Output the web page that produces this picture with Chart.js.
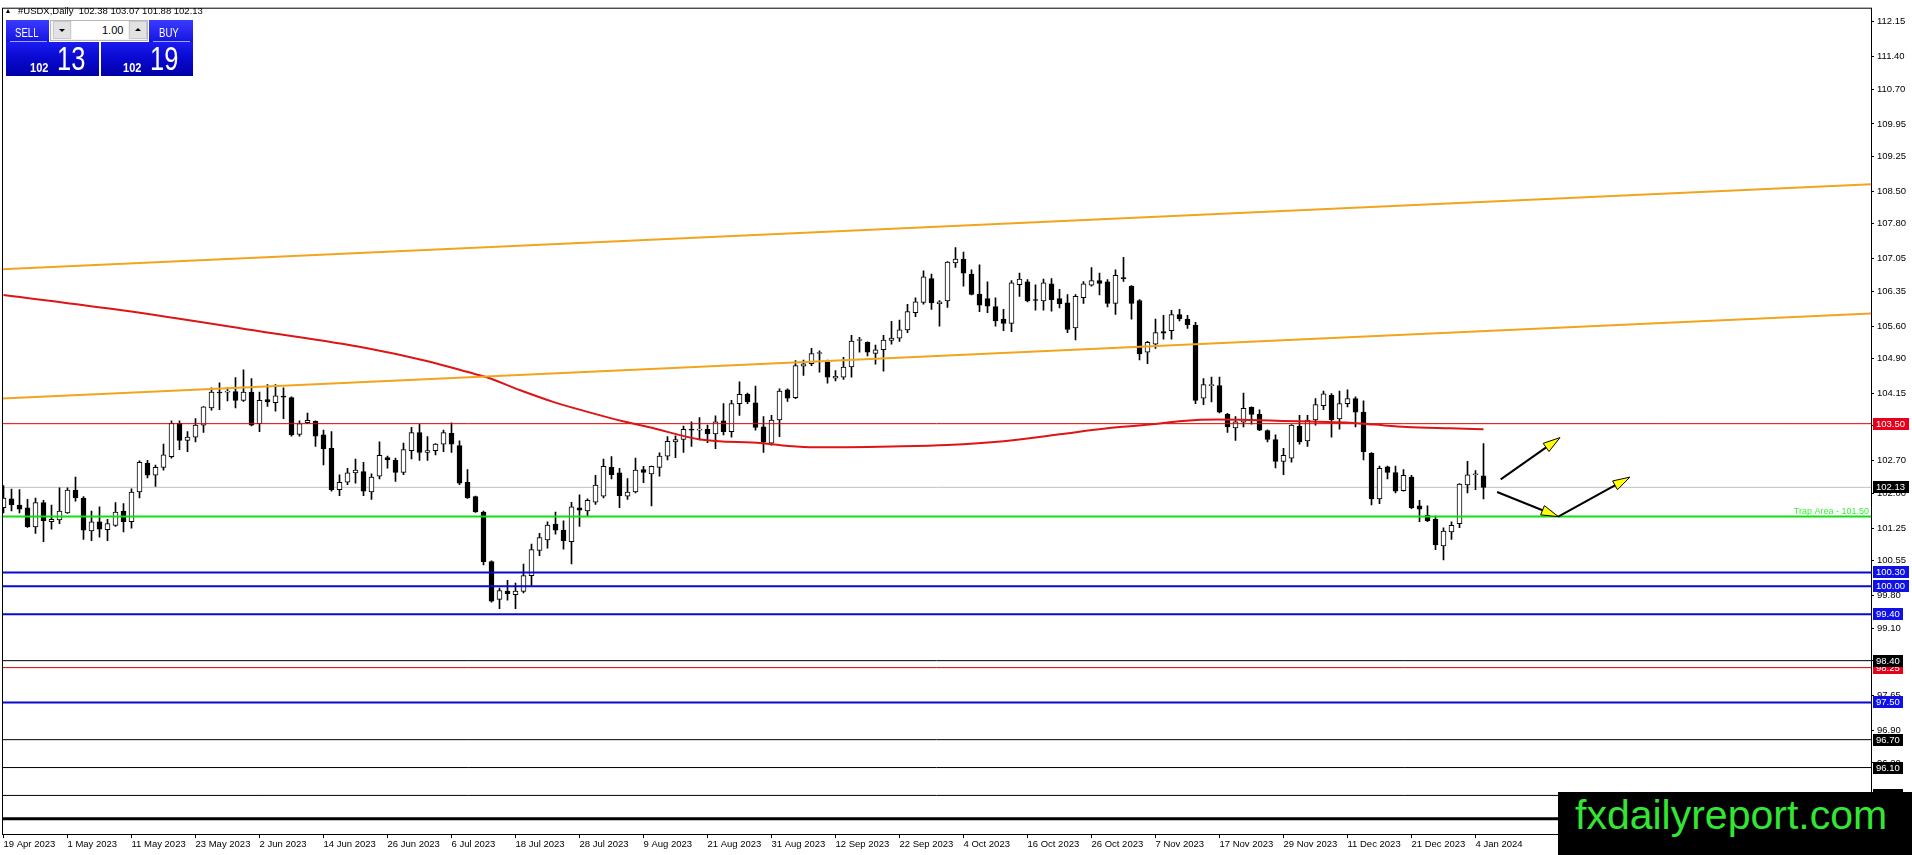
<!DOCTYPE html>
<html><head><meta charset="utf-8">
<script src="https://cdn.jsdelivr.net/npm/chart.js@4.4.1/dist/chart.umd.min.js"></script>
<style>
html,body{margin:0;padding:0;background:#fff;overflow:hidden;}
#wrap{position:relative;width:1912px;height:855px;font-family:"Liberation Sans",Arial,sans-serif;}
#c{position:absolute;left:0;top:0;}
.abs{position:absolute;white-space:pre;}
.tri{position:absolute;left:6px;top:9px;width:0;height:0;border-left:2.5px solid transparent;border-right:2.5px solid transparent;border-bottom:4px solid #000;}
.hdr{left:18px;top:5px;font-size:9.5px;line-height:11px;color:#000;}
.btop{background:linear-gradient(#3b3bff,#1414e0);}
.bbot{background:linear-gradient(#1c1cf0,#0a0ad2 45%,#0000a6);}
.sep{position:absolute;height:1px;background:#9aa6ff;}
.wt{color:#fff;transform-origin:0 0;}
.spin{background:#f4f4f4;border:1px solid #b8b8b8;box-sizing:border-box;}
.sbtn{background:#e2e2e2;border:1px solid #c8c8c8;box-sizing:border-box;}
.field{background:#fff;}
#wm{left:1558px;top:792px;width:354px;height:63px;background:#000;}
#wm span{position:absolute;left:17px;top:3px;font-size:41px;line-height:41px;color:#34e634;}
</style></head><body>
<div id="wrap">
<canvas id="c" width="1912" height="855"></canvas>
<div class="tri"></div>
<div class="abs hdr">#USDX,Daily  102.38 103.07 101.88 102.13</div>

<div class="abs btop" style="left:6px;top:20px;width:43px;height:22px;"></div>
<div class="abs btop" style="left:149px;top:20px;width:44px;height:22px;"></div>
<div class="abs bbot" style="left:6px;top:42px;width:93px;height:34px;"></div>
<div class="abs bbot" style="left:101px;top:42px;width:92px;height:34px;"></div>
<div class="sep" style="left:10px;top:41px;width:37px;"></div>
<div class="sep" style="left:153px;top:41px;width:37px;"></div>
<div class="abs wt" style="left:15px;top:26px;font-size:13px;line-height:13px;transform:scaleX(.74);">SELL</div>
<div class="abs wt" style="left:159px;top:26px;font-size:13px;line-height:13px;transform:scaleX(.74);">BUY</div>

<div class="abs spin" style="left:50px;top:20px;width:98px;height:21px;"></div>
<div class="abs sbtn" style="left:53px;top:21px;width:18px;height:18px;"></div>
<div class="abs field" style="left:72px;top:21px;width:56px;height:18px;"></div>
<div class="abs sbtn" style="left:129px;top:21px;width:18px;height:18px;"></div>
<div class="abs" style="left:59px;top:29px;width:0;height:0;border-left:3px solid transparent;border-right:3px solid transparent;border-top:3px solid #000;"></div>
<div class="abs" style="left:135px;top:28px;width:0;height:0;border-left:3px solid transparent;border-right:3px solid transparent;border-bottom:3px solid #000;"></div>
<div class="abs" style="left:102px;top:25px;font-size:11px;line-height:11px;color:#000;">1.00</div>

<div class="abs wt" style="left:30px;top:61px;font-size:13px;line-height:13px;font-weight:bold;transform:scaleX(.85);">102</div>
<div class="abs wt" style="left:57px;top:41px;font-size:34px;line-height:34px;transform:scaleX(.75);">13</div>
<div class="abs wt" style="left:123px;top:61px;font-size:13px;line-height:13px;font-weight:bold;transform:scaleX(.85);">102</div>
<div class="abs wt" style="left:150px;top:41px;font-size:34px;line-height:34px;transform:scaleX(.75);">19</div>

<div id="wm" class="abs"><span>fxdailyreport.com</span></div>
</div>
<script>
// ---------- data ----------
const STEP = 8; // bars between date labels
const tickLabels = ['19 Apr 2023','1 May 2023','11 May 2023','23 May 2023','2 Jun 2023','14 Jun 2023','26 Jun 2023','6 Jul 2023','18 Jul 2023','28 Jul 2023','9 Aug 2023','21 Aug 2023','31 Aug 2023','12 Sep 2023','22 Sep 2023','4 Oct 2023','16 Oct 2023','26 Oct 2023','7 Nov 2023','17 Nov 2023','29 Nov 2023','11 Dec 2023','21 Dec 2023','4 Jan 2024'];
const priceTicks = [112.15,111.40,110.70,109.95,109.25,108.50,107.80,107.05,106.35,105.60,104.90,104.15,103.45,102.70,102.00,101.25,100.55,99.80,99.10,98.40,97.65,96.90,96.20,95.45];

const opens = [101.69,101.88,101.75,101.69,101.28,101.80,101.39,101.43,101.58,102.07,101.90,101.19,101.39,101.22,101.31,101.62,101.39,102.03,102.65,102.39,
102.56,102.79,103.51,103.14,103.21,103.47,103.84,104.18,104.18,104.19,104.00,104.18,103.50,104.02,103.95,104.08,104.06,103.27,103.52,103.55,
103.26,102.97,102.08,102.24,102.44,102.47,102.03,102.37,102.77,102.71,102.45,102.92,103.31,102.88,102.92,103.06,103.29,103.03,102.24,101.93,
101.60,100.53,99.72,99.90,99.82,99.89,100.23,100.77,101.00,101.34,101.21,100.96,101.69,101.62,101.81,101.94,102.56,102.44,101.94,102.03,
102.51,102.42,102.56,102.80,103.11,103.16,103.37,103.36,103.38,103.28,103.56,103.33,103.93,104.13,103.95,103.43,103.08,103.58,104.23,104.06,
104.74,104.79,105.01,104.82,104.48,104.50,104.72,105.29,105.25,105.01,105.09,105.29,105.34,105.52,105.89,106.11,106.62,106.08,106.14,106.96,
107.04,106.72,106.29,106.19,106.02,105.75,105.66,106.49,106.55,106.16,106.14,106.51,106.19,106.10,105.56,106.21,106.48,106.58,106.55,106.09,
106.63,106.46,106.15,105.04,105.21,105.48,105.50,105.85,105.75,105.62,104.05,104.32,104.32,103.70,103.41,103.53,103.85,103.70,103.35,103.16,
102.69,102.76,103.45,103.13,103.58,103.89,104.11,103.60,103.93,104.04,103.75,102.86,101.88,102.57,102.45,102.06,102.35,101.73,101.53,101.44,
100.87,101.17,101.35,102.18,102.40,102.38];
const highs = [102.17,102.09,102.08,101.87,101.90,101.85,101.75,102.12,102.12,102.35,101.93,101.62,101.71,101.44,101.80,101.78,102.10,102.70,102.71,102.61,
103.06,103.56,103.56,103.33,103.61,103.87,104.27,104.38,104.27,104.49,104.66,104.47,104.18,104.34,104.34,104.27,104.08,103.56,103.73,103.56,
103.36,103.33,102.40,102.54,102.74,102.67,102.42,103.11,102.80,102.76,103.08,103.42,103.49,103.22,103.07,103.36,103.52,103.13,102.51,101.94,
101.62,100.55,99.96,100.13,100.07,100.48,100.91,101.14,101.39,101.60,101.41,101.81,101.97,101.88,102.39,102.74,102.79,102.54,102.32,102.76,
102.58,102.59,102.87,103.22,103.24,103.45,103.54,103.63,103.47,103.67,103.93,104.00,104.40,104.16,104.31,103.65,103.68,104.25,104.25,104.86,
104.87,105.12,105.07,104.87,104.64,104.93,105.40,105.36,105.26,105.19,105.40,105.70,105.73,106.07,106.21,106.79,106.72,106.15,106.99,107.29,
107.19,106.81,106.92,106.55,106.21,105.96,106.58,106.74,106.60,106.49,106.61,106.62,106.39,106.28,106.28,106.56,106.86,106.74,106.60,106.81,
107.08,106.47,106.17,105.27,105.75,105.83,105.94,105.96,105.83,105.68,104.47,104.50,104.50,103.72,103.65,104.16,103.86,103.80,103.37,103.26,
102.97,103.48,103.68,103.68,104.04,104.20,104.15,104.20,104.23,104.08,103.99,102.88,102.59,102.59,102.59,102.51,102.39,101.85,101.73,101.51,
101.26,101.39,102.21,102.69,102.49,103.07];
const lows = [101.58,101.62,101.58,101.27,101.14,100.96,101.23,101.35,101.57,101.83,101.01,100.98,101.06,100.98,101.29,101.17,101.25,101.90,102.33,102.15,
102.50,102.76,102.94,102.90,103.11,103.31,103.79,103.80,103.99,103.84,103.98,103.45,103.33,103.87,103.77,103.61,103.23,103.23,103.50,103.01,
102.61,102.05,101.95,102.19,102.22,101.95,101.87,102.31,102.54,102.26,102.40,102.74,102.71,102.71,102.83,102.90,102.88,102.19,101.89,101.59,
100.46,99.66,99.52,99.70,99.52,99.86,100.02,100.66,100.82,101.12,100.80,100.48,101.29,101.50,101.76,101.90,102.31,101.69,101.87,102.01,
102.23,101.73,102.37,102.72,102.77,102.88,103.01,103.15,103.09,102.96,103.26,103.21,103.68,103.93,103.36,102.88,103.04,103.22,103.98,104.04,
104.54,104.75,104.61,104.37,104.42,104.45,104.50,105.04,104.96,104.78,104.63,105.21,105.27,105.46,105.80,106.07,105.96,105.60,106.00,106.86,
106.46,106.27,105.91,105.89,105.60,105.50,105.48,106.24,106.12,105.94,105.94,105.92,105.99,105.46,105.30,106.09,106.46,106.27,106.01,105.85,
106.56,105.75,104.87,104.79,105.12,105.32,105.32,105.71,105.55,103.93,103.91,103.97,103.73,103.31,103.14,103.43,103.49,103.35,103.11,102.55,
102.40,102.67,103.06,103.01,103.47,103.80,103.21,103.38,103.86,103.43,102.72,101.75,101.78,102.31,102.01,102.05,101.67,101.39,101.39,100.79,
100.57,101.01,101.26,102.01,102.08,101.88];
const closes = [101.90,101.75,101.66,101.28,101.80,101.41,101.44,101.62,102.07,101.90,101.21,101.39,101.23,101.35,101.60,101.39,102.03,102.67,102.39,102.56,
102.83,103.51,103.14,103.21,103.47,103.86,104.18,104.16,104.19,104.00,104.18,103.47,104.00,103.97,104.10,104.07,103.26,103.50,103.57,103.23,
102.96,102.08,102.24,102.44,102.50,102.05,102.35,102.82,102.72,102.45,102.94,103.31,102.88,102.92,103.06,103.31,103.06,102.22,101.90,101.60,
100.53,99.68,99.91,99.84,99.90,100.23,100.79,101.05,101.32,101.21,100.98,101.71,101.64,101.85,102.18,102.58,102.40,101.95,102.03,102.50,
102.45,102.58,102.80,103.12,103.16,103.38,103.36,103.37,103.28,103.54,103.33,103.93,104.13,103.97,103.42,103.10,103.58,104.20,104.05,104.75,
104.79,105.01,105.02,104.50,104.52,104.72,105.28,105.30,105.04,105.09,105.30,105.34,105.52,105.91,106.12,106.66,106.10,106.12,106.98,107.04,
106.74,106.28,106.05,106.03,105.71,105.66,106.53,106.61,106.14,106.15,106.53,106.17,106.08,105.53,106.24,106.51,106.58,106.52,106.09,106.69,
106.62,106.09,105.00,105.25,105.46,105.45,105.85,105.76,105.63,104.00,104.34,104.33,103.75,103.43,103.54,103.83,103.70,103.36,103.16,102.69,
102.82,103.47,103.11,103.58,103.91,104.14,103.58,103.93,104.04,103.75,102.90,101.88,102.54,102.45,102.05,102.39,101.69,101.66,101.41,100.89,
101.19,101.31,102.20,102.40,102.41,102.13];

// moving average (bar index, value)
const maIdx = [0,14.8,32,45.3,52.9,58.9,60.4,64.6,68.7,72.9,77.7,80.6,87.1,94.8,98.1,101.4,111,118,125,132,138,143.3,147.4,151.7,155.8,159.9,164.2,168.3,171.4,175.4,180.8,185];
const maVal = [106.27,105.94,105.49,105.13,104.85,104.57,104.50,104.22,103.97,103.76,103.54,103.43,103.16,103.08,103.02,102.99,103.01,103.04,103.12,103.27,103.40,103.48,103.56,103.59,103.58,103.56,103.54,103.52,103.48,103.43,103.40,103.38];

// channel trendlines (endpoints: bar index, value)
const trendIdx = [-0.44, 233.44];
const upperTrend = [106.82, 108.65];
const lowerTrend = [104.04, 105.87];

// horizontal levels
const levels = [103.50, 102.13, 101.50, 100.30, 100.00, 99.40, 98.40, 98.25, 97.50, 96.70, 96.10, 95.50, 95.00];
const trapLabel = 'Trap Area - 101.50';

// arrows (bar index, value)
const arrowFrom = [[187.15,102.30],[186.7,102.03],[194.35,101.50]];
const arrowTo   = [[194.56,103.20],[194.35,101.50],[203.3,102.35]];

// ---------- styles ----------
const RED='#e00000', BLUE='#0a0ad0', BLK='#000000', GRN='#10e010', GRAY='#c0c0c0';
const levelStyle = [
 {c:RED,w:1,box:'#e8001a'},{c:GRAY,w:1,box:BLK,behind:true},{c:GRN,w:2,box:null},
 {c:BLUE,w:2,box:'#1010e8'},{c:BLUE,w:2,box:'#1010e8'},{c:BLUE,w:2,box:'#1010e8'},
 {c:BLK,w:1,box:BLK},{c:'#d00000',w:1,box:'#e8001a'},{c:BLUE,w:2,box:'#1010e8'},
 {c:BLK,w:1,box:BLK},{c:BLK,w:1,box:BLK},{c:BLK,w:1,box:BLK},{c:BLK,w:3,box:BLK}
];
const FONT = '9.5px "Liberation Sans", Arial, sans-serif';
const XMIN = -0.1875, XMAX = 233.4375;

const datasets = [];
// trendlines and MA on top
datasets.push({type:'line',data:trendIdx.map((x,k)=>({x,y:upperTrend[k]})),borderColor:'#f3a41e',borderWidth:2,pointRadius:0,order:0});
datasets.push({type:'line',data:trendIdx.map((x,k)=>({x,y:lowerTrend[k]})),borderColor:'#f3a41e',borderWidth:2,pointRadius:0,order:0});
datasets.push({type:'line',data:maIdx.map((x,k)=>({x,y:maVal[k]})),borderColor:'#dd1515',borderWidth:2,pointRadius:0,cubicInterpolationMode:'monotone',order:0});
levels.forEach((v,k)=>{
  const s=levelStyle[k];
  datasets.push({type:'line',data:[{x:XMIN-1,y:v},{x:XMAX+1,y:v}],borderColor:s.c,borderWidth:s.w,pointRadius:0,order:s.behind?20:1});
});
datasets.push({type:'bar',data:opens.map((o,i)=>({x:i,y:[o,closes[i]]})),
  backgroundColor:opens.map((o,i)=>closes[i]>=o?'#ffffff':'#000000'),
  borderColor:'#000',borderWidth:1,borderSkipped:false,barThickness:5,minBarLength:1,grouped:false,order:5});
datasets.push({type:'bar',data:highs.map((h,i)=>({x:i,y:[lows[i],h]})),
  backgroundColor:'#000',borderWidth:0,barThickness:1,grouped:false,order:6});

const overlay = {
  id:'overlay',
  afterDatasetsDraw(chart){
    const {ctx, chartArea:a, scales:{x,y}} = chart;
    ctx.save();
    ctx.beginPath(); ctx.rect(a.left,a.top,a.right-a.left,a.bottom-a.top); ctx.clip();
    // trap text
    ctx.font = '9px "Liberation Sans", Arial, sans-serif';
    ctx.fillStyle = '#3cf03c'; ctx.textAlign='right'; ctx.textBaseline='alphabetic';
    ctx.fillText(trapLabel, a.right-2, y.getPixelForValue(101.50)-3);
    // arrows
    arrowFrom.forEach((f,k)=>{
      const t = arrowTo[k];
      const x1=x.getPixelForValue(f[0]), y1=y.getPixelForValue(f[1]);
      const x2=x.getPixelForValue(t[0]), y2=y.getPixelForValue(t[1]);
      const ang=Math.atan2(y2-y1,x2-x1), L=17, W=5;
      const bx=x2-L*Math.cos(ang), by=y2-L*Math.sin(ang);
      ctx.strokeStyle='#000'; ctx.lineWidth=2;
      ctx.beginPath(); ctx.moveTo(x1,y1); ctx.lineTo(bx+4*Math.cos(ang),by+4*Math.sin(ang)); ctx.stroke();
      ctx.beginPath();
      ctx.moveTo(x2,y2);
      ctx.lineTo(bx+W*Math.sin(ang),by-W*Math.cos(ang));
      ctx.lineTo(bx-W*Math.sin(ang),by+W*Math.cos(ang));
      ctx.closePath();
      ctx.fillStyle='#ffff00'; ctx.fill();
      ctx.lineWidth=1; ctx.stroke();
    });
    ctx.restore();
  },
  afterDraw(chart){
    const {ctx, chartArea:a, scales:{y}} = chart;
    ctx.save();
    // frame
    ctx.strokeStyle='#000'; ctx.lineWidth=1;
    ctx.strokeRect(a.left+0.5, a.top-0.5, a.right-a.left, a.bottom-a.top+1);
    // price boxes
    ctx.font = FONT; ctx.textAlign='left'; ctx.textBaseline='middle';
    for(let k=levels.length-1;k>=0;k--){
      const s=levelStyle[k]; if(!s.box) continue;
      const v=levels[k], py=Math.round(y.getPixelForValue(v));
      const txt=v.toFixed(2), w=ctx.measureText(txt).width;
      ctx.fillStyle=s.box; ctx.fillRect(a.right+2, py-6, Math.ceil(w)+6, 12);
      ctx.fillStyle='#fff'; ctx.fillText(txt, a.right+5, py+0.5);
    }
    ctx.restore();
  }
};

new Chart(document.getElementById('c'), {
  type:'bar',
  data:{datasets},
  options:{
    responsive:false, devicePixelRatio:1, animation:false,
    layout:{padding:{left:2,top:2,right:0,bottom:0}},
    plugins:{legend:{display:false},tooltip:{enabled:false}},
    scales:{
      x:{type:'linear',min:XMIN,max:XMAX,offset:false,
        grid:{drawOnChartArea:false,offset:false,color:'#000',tickLength:4},
        border:{color:'#000'},
        afterBuildTicks:(ax)=>{ax.ticks=tickLabels.map((_,k)=>({value:k*STEP}));},
        afterFit:(s)=>{s.height=21;},
        ticks:{autoSkip:false,maxRotation:0,minRotation:0,align:'start',labelOffset:0,padding:1,color:'#000',
          font:{family:'"Liberation Sans", Arial, sans-serif',size:9.5},
          callback:(v,i)=>tickLabels[i]}
      },
      y:{type:'linear',position:'right',min:94.67,max:112.43,
        grid:{drawOnChartArea:false,color:'#000',tickLength:3},
        border:{color:'#000'},
        afterBuildTicks:(ax)=>{ax.ticks=priceTicks.map(v=>({value:v}));},
        afterFit:(s)=>{s.width=41;},
        ticks:{autoSkip:false,padding:3,color:'#000',
          font:{family:'"Liberation Sans", Arial, sans-serif',size:9.5},
          callback:(v)=>Number(v).toFixed(2)}
      }
    }
  },
  plugins:[overlay]
});
</script>
</body></html>
